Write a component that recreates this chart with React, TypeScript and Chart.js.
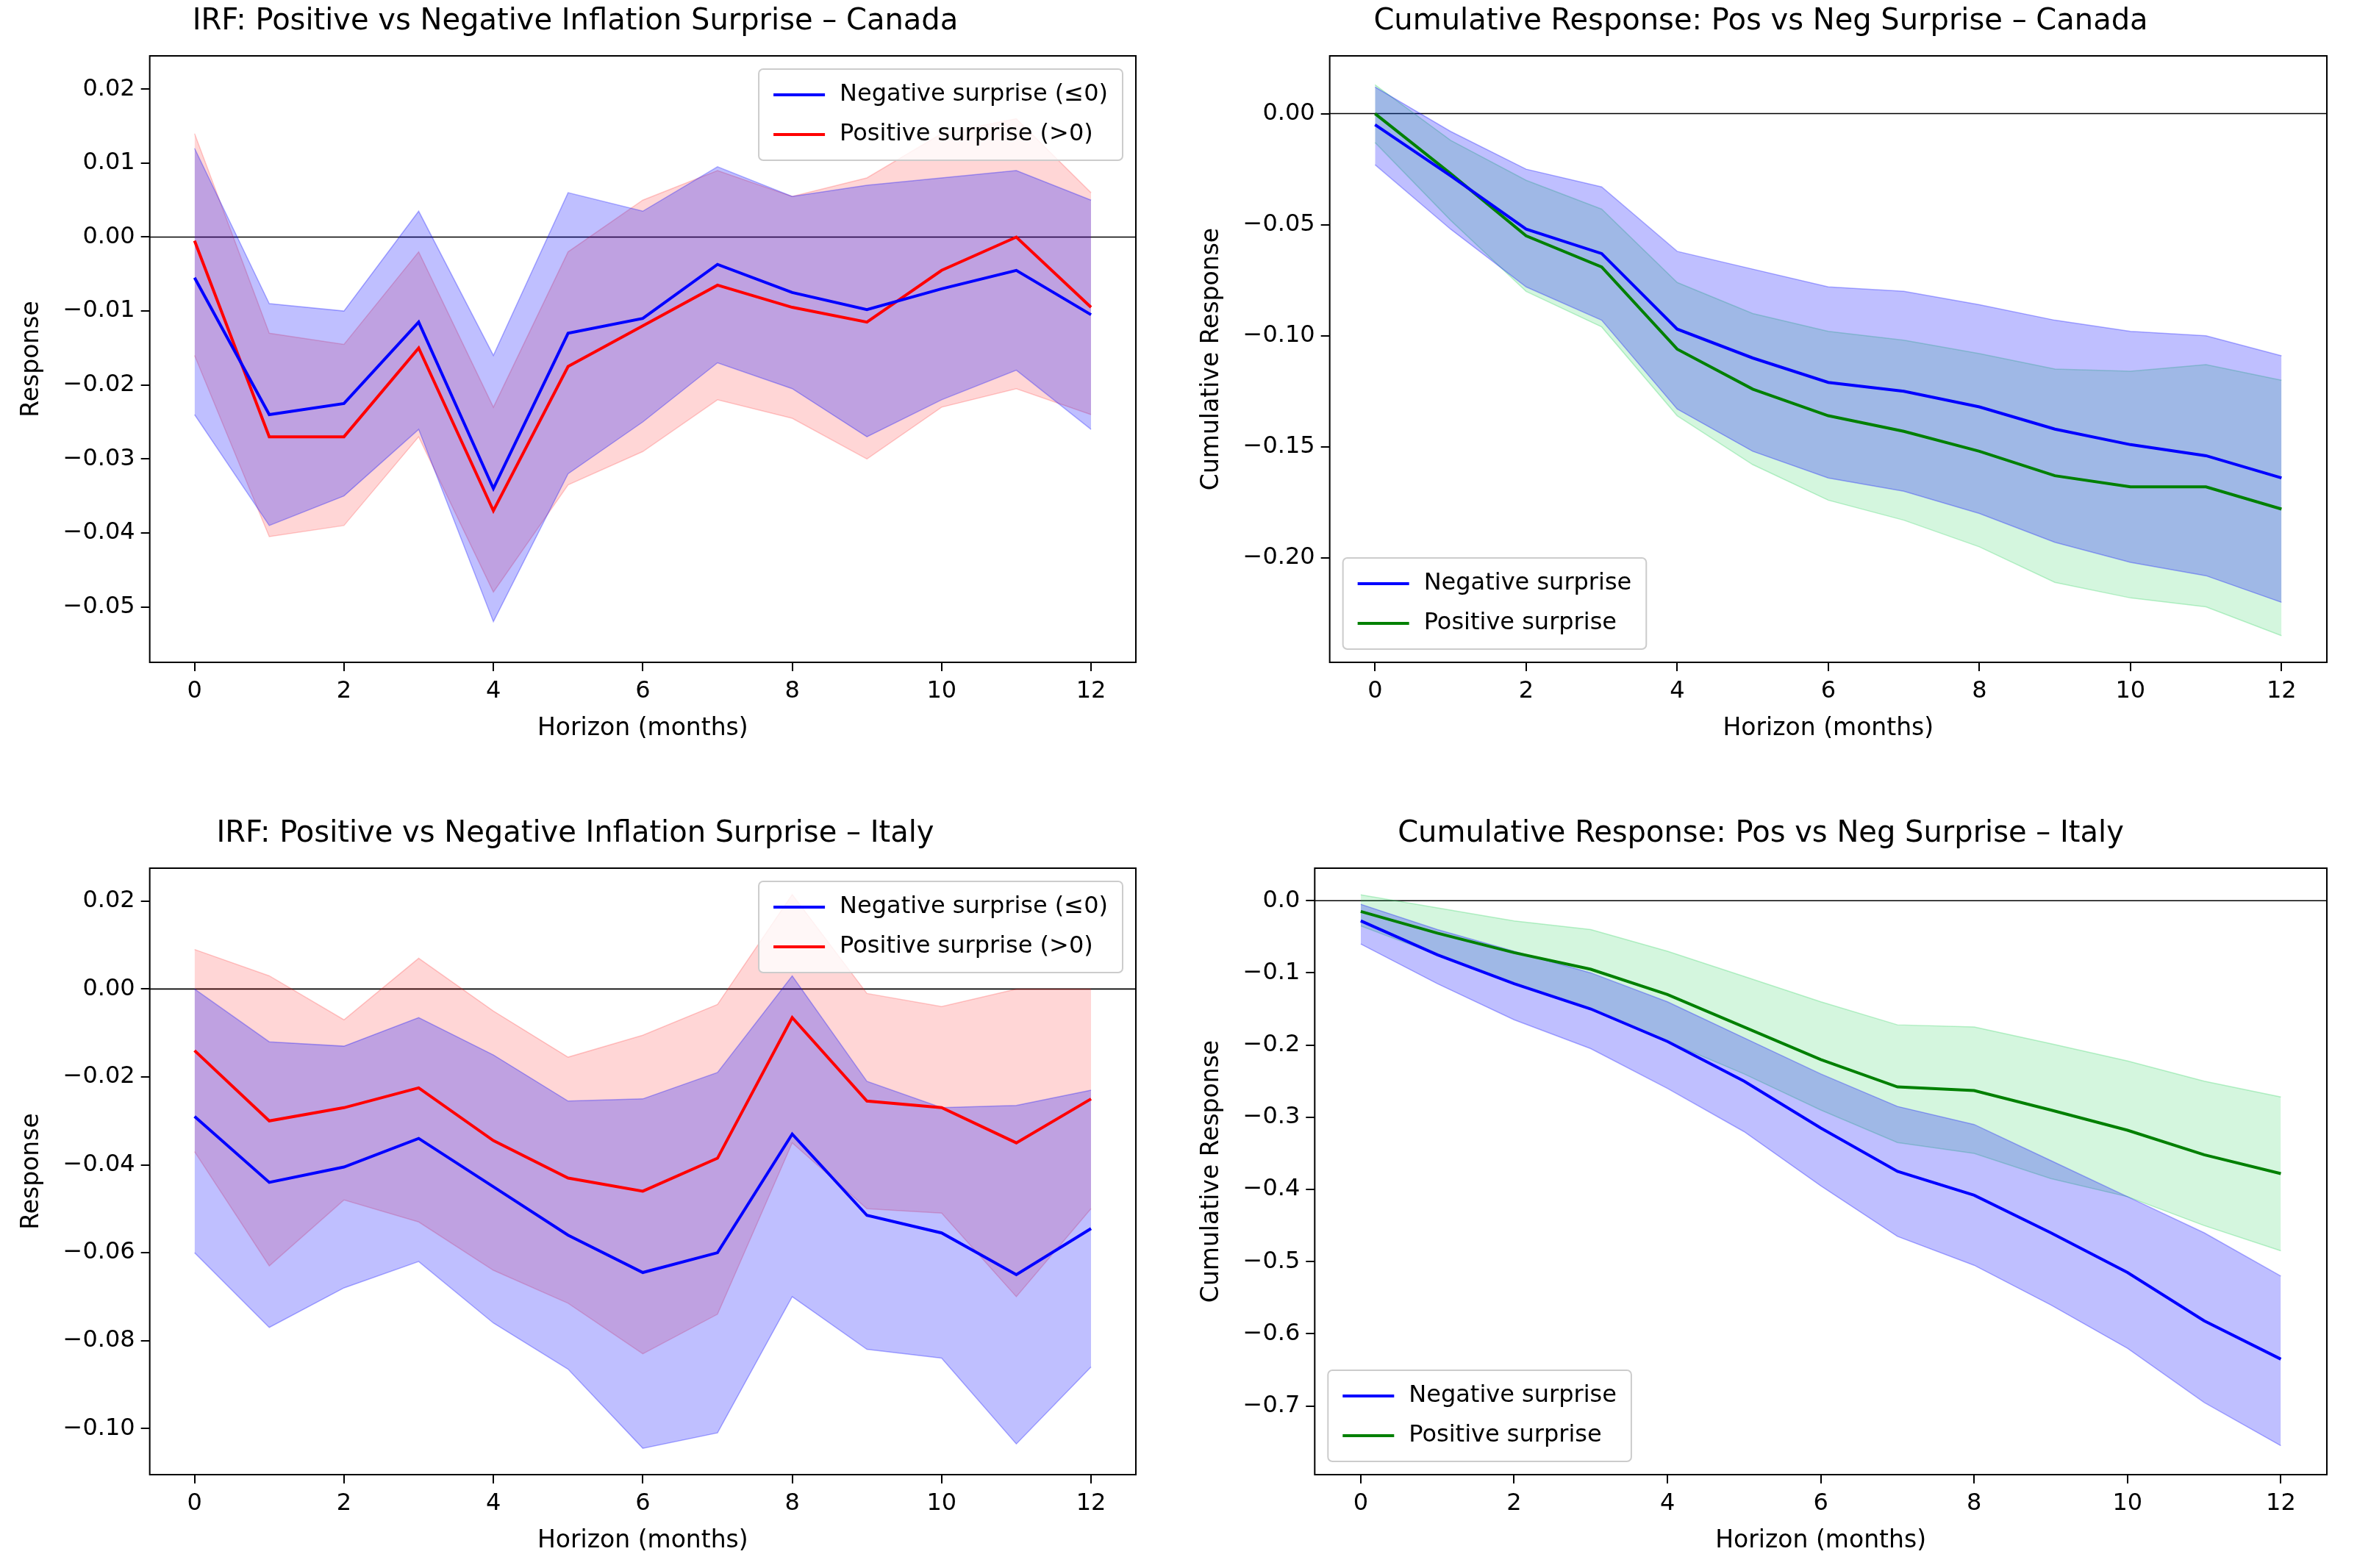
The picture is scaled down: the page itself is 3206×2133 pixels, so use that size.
import React, { useEffect, useRef } from "react";
import { Chart, registerables } from "chart.js";
Chart.register(...registerables);

const horizons = [0, 1, 2, 3, 4, 5, 6, 7, 8, 9, 10, 11, 12];

// Canada IRF
const caNeg = [-0.0055, -0.024, -0.0225, -0.0115, -0.034, -0.013, -0.011, -0.0037, -0.0075, -0.0098, -0.007, -0.0045, -0.0105];
const caNegUp = [0.012, -0.009, -0.010, 0.0035, -0.016, 0.006, 0.0035, 0.0095, 0.0055, 0.007, 0.008, 0.009, 0.005];
const caNegLo = [-0.024, -0.039, -0.035, -0.026, -0.052, -0.032, -0.025, -0.017, -0.0205, -0.027, -0.022, -0.018, -0.026];
const caPos = [-0.0005, -0.027, -0.027, -0.015, -0.037, -0.0175, -0.012, -0.0065, -0.0095, -0.0115, -0.0045, 0.0, -0.0095];
const caPosUp = [0.014, -0.013, -0.0145, -0.002, -0.023, -0.002, 0.005, 0.009, 0.0055, 0.008, 0.014, 0.016, 0.006];
const caPosLo = [-0.016, -0.0405, -0.039, -0.027, -0.048, -0.0335, -0.029, -0.022, -0.0245, -0.030, -0.023, -0.0205, -0.024];

// Canada cumulative
const caCumNeg = [-0.005, -0.028, -0.052, -0.063, -0.097, -0.110, -0.121, -0.125, -0.132, -0.142, -0.149, -0.154, -0.164];
const caCumNegUp = [0.012, -0.008, -0.025, -0.033, -0.062, -0.070, -0.078, -0.080, -0.086, -0.093, -0.098, -0.100, -0.109];
const caCumNegLo = [-0.023, -0.052, -0.078, -0.093, -0.133, -0.152, -0.164, -0.170, -0.180, -0.193, -0.202, -0.208, -0.220];
const caCumPos = [0.0, -0.027, -0.055, -0.069, -0.106, -0.124, -0.136, -0.143, -0.152, -0.163, -0.168, -0.168, -0.178];
const caCumPosUp = [0.013, -0.012, -0.030, -0.043, -0.076, -0.090, -0.098, -0.102, -0.108, -0.115, -0.116, -0.113, -0.120];
const caCumPosLo = [-0.013, -0.048, -0.080, -0.096, -0.136, -0.158, -0.174, -0.183, -0.195, -0.211, -0.218, -0.222, -0.235];

// Italy IRF
const itNeg = [-0.029, -0.044, -0.0405, -0.034, -0.045, -0.056, -0.0645, -0.060, -0.033, -0.0515, -0.0555, -0.065, -0.0545];
const itNegUp = [0.0, -0.012, -0.013, -0.0065, -0.015, -0.0255, -0.025, -0.019, 0.003, -0.021, -0.027, -0.0265, -0.023];
const itNegLo = [-0.060, -0.077, -0.068, -0.062, -0.076, -0.0865, -0.1045, -0.101, -0.070, -0.082, -0.084, -0.1035, -0.086];
const itPos = [-0.014, -0.030, -0.027, -0.0225, -0.0345, -0.043, -0.046, -0.0385, -0.0065, -0.0255, -0.027, -0.035, -0.025];
const itPosUp = [0.009, 0.003, -0.007, 0.007, -0.005, -0.0155, -0.0105, -0.0035, 0.0215, -0.001, -0.004, 0.0, 0.0];
const itPosLo = [-0.037, -0.063, -0.048, -0.053, -0.064, -0.0715, -0.083, -0.074, -0.035, -0.050, -0.051, -0.070, -0.050];

// Italy cumulative
const itCumNeg = [-0.028, -0.075, -0.115, -0.150, -0.195, -0.250, -0.315, -0.375, -0.408, -0.460, -0.515, -0.582, -0.635];
const itCumNegUp = [-0.005, -0.040, -0.070, -0.100, -0.140, -0.190, -0.240, -0.285, -0.310, -0.360, -0.410, -0.460, -0.520];
const itCumNegLo = [-0.060, -0.115, -0.165, -0.205, -0.260, -0.320, -0.395, -0.465, -0.505, -0.560, -0.620, -0.695, -0.755];
const itCumPos = [-0.015, -0.045, -0.072, -0.095, -0.130, -0.175, -0.220, -0.258, -0.263, -0.290, -0.318, -0.352, -0.378];
const itCumPosUp = [0.008, -0.010, -0.028, -0.040, -0.070, -0.105, -0.140, -0.172, -0.175, -0.198, -0.222, -0.250, -0.272];
const itCumPosLo = [-0.035, -0.075, -0.115, -0.150, -0.195, -0.240, -0.290, -0.335, -0.350, -0.385, -0.410, -0.450, -0.485];

const FONT = "'DejaVu Sans', sans-serif";
const pts = (v: number[]) => v.map((y, i) => ({ x: horizons[i], y }));

type Series = { label: string; mean: number[]; up: number[]; lo: number[]; line: string; fill: string; edge: string };

const framePlugin = {
  id: "frame",
  beforeDatasetsDraw(chart: any) {
    const { ctx, chartArea: a, scales } = chart;
    ctx.save();
    const y0 = scales.y.getPixelForValue(0);
    ctx.strokeStyle = "#000";
    ctx.lineWidth = 1.6;
    ctx.beginPath();
    ctx.moveTo(a.left, y0);
    ctx.lineTo(a.right, y0);
    ctx.stroke();
    ctx.restore();
  },
  afterDraw(chart: any) {
    const { ctx, chartArea: a } = chart;
    ctx.save();
    ctx.strokeStyle = "#000";
    ctx.lineWidth = 2;
    ctx.strokeRect(a.left, a.top, a.right - a.left, a.bottom - a.top);
    const o = chart.options.plugins.myLegend;
    const items: { label: string; color: string }[] = o.items;
    ctx.font = `32px ${FONT}`;
    const rowH = 54;
    const tw = Math.max(...items.map((i) => ctx.measureText(i.label).width));
    const w = 20 + 70 + 20 + tw + 20;
    const h = items.length * rowH + 16;
    const x = o.pos === "ur" ? a.right - 18 - w : a.left + 18;
    const y = o.pos === "ur" ? a.top + 18 : a.bottom - 18 - h;
    ctx.fillStyle = "rgba(255,255,255,0.8)";
    ctx.strokeStyle = "#ccc";
    ctx.lineWidth = 2;
    ctx.beginPath();
    (ctx as any).roundRect(x, y, w, h, 6);
    ctx.fill();
    ctx.stroke();
    items.forEach((it, i) => {
      const cy = y + 8 + rowH * i + rowH / 2;
      ctx.strokeStyle = it.color;
      ctx.lineWidth = 4;
      ctx.beginPath();
      ctx.moveTo(x + 20, cy);
      ctx.lineTo(x + 90, cy);
      ctx.stroke();
      ctx.fillStyle = "#000";
      ctx.textBaseline = "middle";
      ctx.fillText(it.label, x + 110, cy);
    });
    ctx.restore();
  },
};

function Panel(props: {
  left: number; top: number; width: number; height: number; title: string; ylabel: string;
  series: Series[]; ymin: number; ymax: number; step: number; dec: number; legendPos: string;
}) {
  const ref = useRef<HTMLCanvasElement>(null);
  useEffect(() => {
    const datasets: any[] = [];
    props.series.forEach((s) => {
      datasets.push({ data: pts(s.up), borderColor: s.edge, borderWidth: 1.5, backgroundColor: s.fill, fill: "+1", pointRadius: 0, tension: 0, order: 2 });
      datasets.push({ data: pts(s.lo), borderColor: s.edge, borderWidth: 1.5, fill: false, pointRadius: 0, tension: 0, order: 2 });
    });
    props.series.forEach((s) => {
      datasets.push({ data: pts(s.mean), borderColor: s.line, borderWidth: 4, fill: false, pointRadius: 0, tension: 0, order: 1 });
    });
    const ticks: number[] = [];
    for (let v = Math.ceil(props.ymin / props.step - 1e-9) * props.step; v <= props.ymax + 1e-9; v += props.step) ticks.push(Math.round(v / props.step) * props.step);
    const fmt = (v: number) => {
      const s = Math.abs(v).toFixed(props.dec);
      return (v < -1e-9 ? "\u2212" : "") + s;
    };
    const chart = new Chart(ref.current!, {
      type: "line",
      data: { datasets },
      plugins: [framePlugin as any],
      options: {
        animation: false,
        responsive: false,
        devicePixelRatio: 1,
        layout: { padding: { right: 20, top: 0 } },
        plugins: {
          legend: { display: false },
          tooltip: { enabled: false },
          title: { display: true, text: props.title, color: "#000", font: { family: FONT, size: 40, weight: "normal" }, padding: { top: 6, bottom: 22 } },
          myLegend: { pos: props.legendPos, items: props.series.map((s) => ({ label: s.label, color: s.line })) },
        } as any,
        scales: {
          x: {
            type: "linear", min: -0.6, max: 12.6,
            afterBuildTicks: (sc: any) => { sc.ticks = [0, 2, 4, 6, 8, 10, 12].map((v) => ({ value: v })); },
            ticks: { color: "#000", font: { family: FONT, size: 32 }, padding: 8, callback: (v: any) => String(v) },
            grid: { display: true, drawOnChartArea: false, color: "#000", tickLength: 12, lineWidth: 2 },
            border: { display: false },
            title: { display: true, text: "Horizon (months)", color: "#000", font: { family: FONT, size: 33 }, padding: { top: 4 } },
          },
          y: {
            type: "linear", min: props.ymin, max: props.ymax,
            afterBuildTicks: (sc: any) => { sc.ticks = ticks.map((v) => ({ value: v })); },
            ticks: { color: "#000", font: { family: FONT, size: 32 }, padding: 8, callback: (v: any) => fmt(Number(v)) },
            grid: { display: true, drawOnChartArea: false, color: "#000", tickLength: 12, lineWidth: 2 },
            border: { display: false },
            title: { display: true, text: props.ylabel, color: "#000", font: { family: FONT, size: 33 }, padding: { bottom: 14 } },
          },
        },
      } as any,
    });
    return () => chart.destroy();
  }, []);
  return (
    <canvas ref={ref} width={props.width} height={props.height}
      style={{ position: "absolute", left: props.left, top: props.top, width: props.width, height: props.height }} />
  );
}

const BLUE = { line: "#0000ff", fill: "rgba(0,0,255,0.25)", edge: "rgba(0,0,255,0.3)" };
const RED = { line: "#ff0000", fill: "rgba(255,0,0,0.16)", edge: "rgba(255,0,0,0.2)" };
const GREEN = { line: "#008000", fill: "rgba(40,210,90,0.2)", edge: "rgba(40,210,90,0.3)" };

export default function App() {
  useEffect(() => { document.body.style.margin = "0"; }, []);
  return (
    <div style={{ position: "relative", width: 3206, height: 2133, background: "#fff", fontFamily: FONT }}>
      <Panel left={20} top={0} width={1545} height={1015} title="IRF: Positive vs Negative Inflation Surprise – Canada" ylabel="Response"
        ymin={-0.0575} ymax={0.0245} step={0.01} dec={2} legendPos="ur"
        series={[
          { label: "Negative surprise (≤0)", mean: caNeg, up: caNegUp, lo: caNegLo, ...BLUE },
          { label: "Positive surprise (>0)", mean: caPos, up: caPosUp, lo: caPosLo, ...RED },
        ]} />
      <Panel left={1625} top={0} width={1560} height={1015} title="Cumulative Response: Pos vs Neg Surprise – Canada" ylabel="Cumulative Response"
        ymin={-0.247} ymax={0.026} step={0.05} dec={2} legendPos="ll"
        series={[
          { label: "Negative surprise", mean: caCumNeg, up: caCumNegUp, lo: caCumNegLo, ...BLUE },
          { label: "Positive surprise", mean: caCumPos, up: caCumPosUp, lo: caCumPosLo, ...GREEN },
        ]} />
      <Panel left={20} top={1105} width={1545} height={1015} title="IRF: Positive vs Negative Inflation Surprise – Italy" ylabel="Response"
        ymin={-0.1105} ymax={0.0275} step={0.02} dec={2} legendPos="ur"
        series={[
          { label: "Negative surprise (≤0)", mean: itNeg, up: itNegUp, lo: itNegLo, ...BLUE },
          { label: "Positive surprise (>0)", mean: itPos, up: itPosUp, lo: itPosLo, ...RED },
        ]} />
      <Panel left={1625} top={1105} width={1560} height={1015} title="Cumulative Response: Pos vs Neg Surprise – Italy" ylabel="Cumulative Response"
        ymin={-0.795} ymax={0.045} step={0.1} dec={1} legendPos="ll"
        series={[
          { label: "Negative surprise", mean: itCumNeg, up: itCumNegUp, lo: itCumNegLo, ...BLUE },
          { label: "Positive surprise", mean: itCumPos, up: itCumPosUp, lo: itCumPosLo, ...GREEN },
        ]} />
    </div>
  );
}
